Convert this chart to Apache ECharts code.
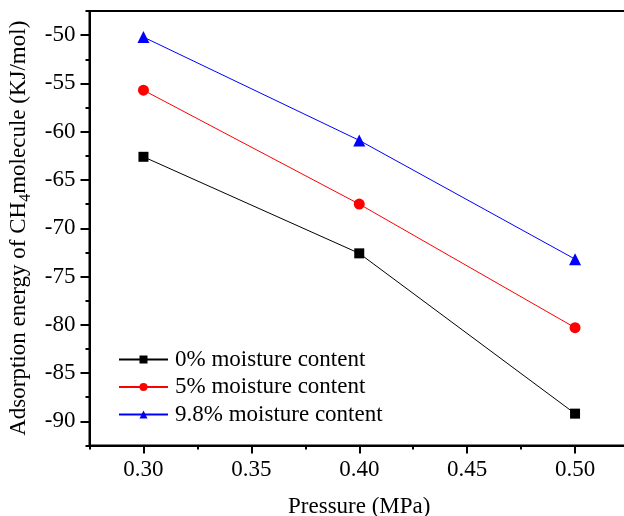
<!DOCTYPE html>
<html>
<head>
<meta charset="utf-8">
<script src="https://cdn.jsdelivr.net/npm/echarts@6/dist/echarts.min.js"></script>
<style>
  html, body { margin: 0; padding: 0; background: #fff; }
  #chart { width: 624px; height: 516px; }
</style>
</head>
<body>
<div id="chart"></div>
<script>
// Pressure (MPa) at which adsorption energy was computed
const pressure = [0.30, 0.40, 0.50];

// Adsorption energy of CH4 (KJ/mol) per moisture content
const moisture0 = [-62.6, -72.6, -89.2];
const moisture5 = [-55.7, -67.5, -80.3];
const moisture98 = [-50.2, -60.9, -73.2];

const seriesNames = ['0% moisture content', '5% moisture content', '9.8% moisture content'];

// Tick positions
const xMajorTicks = [0.30, 0.35, 0.40, 0.45, 0.50];
const xMinorTicks = [0.275, 0.325, 0.375, 0.425, 0.475, 0.525];
const yMajorTicks = [-90, -85, -80, -75, -70, -65, -60, -55, -50];
const yMinorTicks = [-92.5, -87.5, -82.5, -77.5, -72.5, -67.5, -62.5, -57.5, -52.5, -47.5];

const FONT = '"Liberation Serif", "DejaVu Serif", serif';
const X_MIN = 0.275, X_MAX = 0.525, Y_MIN = -92.5, Y_MAX = -47.5;

function pairs(vals) {
  return pressure.map((p, i) => [p, vals[i]]);
}

const chart = echarts.init(document.getElementById('chart'), null, { renderer: 'canvas' });

const lineSeries = (name, data, color, symbol, size) => ({
  name: name,
  type: 'line',
  data: pairs(data),
  symbol: symbol,
  symbolSize: size,
  showAllSymbol: true,
  itemStyle: { color: color },
  lineStyle: { color: color, width: 1 },
  emphasis: { disabled: true },
  animation: false,
  z: 5
});

chart.setOption({
  animation: false,
  backgroundColor: '#ffffff',
  grid: {
    left: 89.5, right: -5, top: 11, bottom: 70.5,
    containLabel: false, outerBoundsMode: 'none',
    show: true, borderColor: '#000', borderWidth: 2, backgroundColor: 'transparent'
  },
  legend: {
    orient: 'vertical',
    left: 118, top: 348, padding: 0,
    itemWidth: 49, itemHeight: 10, itemGap: 4.5,
    data: seriesNames,
    textStyle: { fontFamily: FONT, fontSize: 23, color: '#000', padding: [0, 0, 0, 2] },
    selectedMode: false
  },
  xAxis: [
    {
      type: 'value', min: X_MIN, max: X_MAX,
      position: 'bottom',
      axisLine: { show: true, lineStyle: { color: '#000', width: 2 } },
      axisTick: { show: true, inside: false, length: 8, lineStyle: { color: '#000', width: 2 }, customValues: xMajorTicks },
      axisLabel: { show: true, margin: 13, fontFamily: FONT, fontSize: 23, color: '#000',
        customValues: xMajorTicks, formatter: v => v.toFixed(2) },
      splitLine: { show: false },
      name: 'Pressure (MPa)', nameLocation: 'middle', nameGap: 50,
      nameTextStyle: { fontFamily: FONT, fontSize: 23, color: '#000' }
    },
    {
      type: 'value', min: X_MIN, max: X_MAX,
      position: 'bottom',
      axisLine: { show: false },
      axisTick: { show: true, inside: false, length: 4, lineStyle: { color: '#000', width: 2 }, customValues: xMinorTicks },
      axisLabel: { show: false },
      splitLine: { show: false }
    }
  ],
  yAxis: [
    {
      type: 'value', min: Y_MIN, max: Y_MAX,
      position: 'left',
      axisLine: { show: true, lineStyle: { color: '#000', width: 2 } },
      axisTick: { show: true, inside: false, length: 9, lineStyle: { color: '#000', width: 2 }, customValues: yMajorTicks },
      axisLabel: { show: true, margin: 14, fontFamily: FONT, fontSize: 23, color: '#000',
        customValues: yMajorTicks, formatter: v => String(v) },
      splitLine: { show: false },
      name: 'Adsorption energy of CH{sub|4}molecule (KJ/mol)',
      nameLocation: 'middle', nameGap: 52, nameRotate: 90,
      nameTextStyle: {
        fontFamily: FONT, fontSize: 23, color: '#000', lineHeight: 30,
        rich: {
          sub: { fontFamily: FONT, fontSize: 16, color: '#000', lineHeight: 16, verticalAlign: 'bottom' }
        }
      }
    },
    {
      type: 'value', min: Y_MIN, max: Y_MAX,
      position: 'left',
      axisLine: { show: false },
      axisTick: { show: true, inside: false, length: 4, lineStyle: { color: '#000', width: 2 }, customValues: yMinorTicks },
      axisLabel: { show: false },
      splitLine: { show: false }
    }
  ],
  series: [
    lineSeries(seriesNames[0], moisture0, '#000000', 'rect', 10),
    lineSeries(seriesNames[1], moisture5, '#ff0000', 'circle', 11),
    lineSeries(seriesNames[2], moisture98, '#0000ff', 'triangle', 12)
  ]
});
</script>
</body>
</html>
